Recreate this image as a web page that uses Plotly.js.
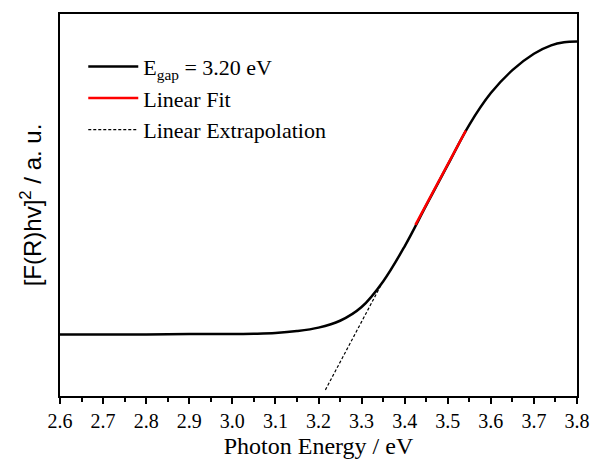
<!DOCTYPE html>
<html>
<head>
<meta charset="utf-8">
<script src="https://cdn.plot.ly/plotly-3.0.1.min.js"></script>
<style>html,body{margin:0;padding:0;background:#fff;}#chart{width:591px;height:462px;}</style>
</head>
<body>
<div id="chart"></div>
<script>
// Photon energy (eV) and normalized [F(R)hv]^2 (a.u.)
const energy = [2.60, 2.70, 2.80, 2.90, 3.00, 3.05, 3.10, 3.15, 3.20, 3.25, 3.30, 3.35, 3.40, 3.45, 3.50, 3.55, 3.60, 3.65, 3.70, 3.74, 3.77, 3.80];
const signal = [0.161, 0.161, 0.161, 0.162, 0.162, 0.163, 0.165, 0.170, 0.179, 0.197, 0.233, 0.300, 0.392, 0.499, 0.605, 0.710, 0.793, 0.853, 0.896, 0.918, 0.926, 0.928];
const fitX = [3.425, 3.542];
const fitY = [0.448, 0.695];
const extrapX = [3.216, 3.345];
const extrapY = [0.016, 0.29];
const xTicks = [2.6, 2.7, 2.8, 2.9, 3.0, 3.1, 3.2, 3.3, 3.4, 3.5, 3.6, 3.7, 3.8];
const xTickLabels = ['2.6','2.7','2.8','2.9','3.0','3.1','3.2','3.3','3.4','3.5','3.6','3.7','3.8'];

const serif = 'Liberation Serif, serif';
const traces = [
  {x: energy, y: signal, type: 'scatter', mode: 'lines', name: 'E<sub>gap</sub> = 3.20 eV',
   line: {color: '#000', width: 2.5, shape: 'spline', smoothing: 1}},
  {x: fitX, y: fitY, type: 'scatter', mode: 'lines', name: 'Linear Fit',
   line: {color: '#ff0000', width: 2.5}},
  {x: extrapX, y: extrapY, type: 'scatter', mode: 'lines', name: 'Linear Extrapolation',
   line: {color: '#000', width: 1.2, dash: '3px,2px'}}
];
const layout = {
  width: 591, height: 462,
  margin: {l: 60, r: 14, t: 14, b: 66},
  paper_bgcolor: '#fff', plot_bgcolor: '#fff',
  font: {family: serif, color: '#000'},
  showlegend: true,
  legend: {x: 0.045, y: 0.917, xanchor: 'left', yanchor: 'top', bgcolor: 'rgba(0,0,0,0)',
           font: {family: serif, size: 22, color: '#000'}, itemwidth: 50, tracegroupgap: 0},
  xaxis: {range: [2.6, 3.8], tickvals: xTicks, ticktext: xTickLabels, ticklabeloverflow: 'allow',
          ticks: 'outside', ticklen: 6, tickwidth: 2, tickcolor: '#000',
          minor: {dtick: 0.05, ticks: 'outside', ticklen: 4, tickwidth: 2, tickcolor: '#000'},
          showline: true, linewidth: 2, linecolor: '#000', mirror: true,
          showgrid: false, zeroline: false,
          tickfont: {family: serif, size: 20, color: '#000'},
          title: {text: 'Photon Energy / eV', font: {family: serif, size: 24, color: '#000'}, standoff: 6}},
  yaxis: {range: [0, 1], showticklabels: false, ticks: '',
          showline: true, linewidth: 2, linecolor: '#000', mirror: true,
          showgrid: false, zeroline: false,
          title: {text: '[F(R)hv]<sup>2</sup> / a. u.', font: {family: 'Liberation Sans', size: 24, color: '#000'}, standoff: 10}}
};
Plotly.newPlot('chart', traces, layout, {displayModeBar: false, staticPlot: true});
</script>
</body>
</html>
